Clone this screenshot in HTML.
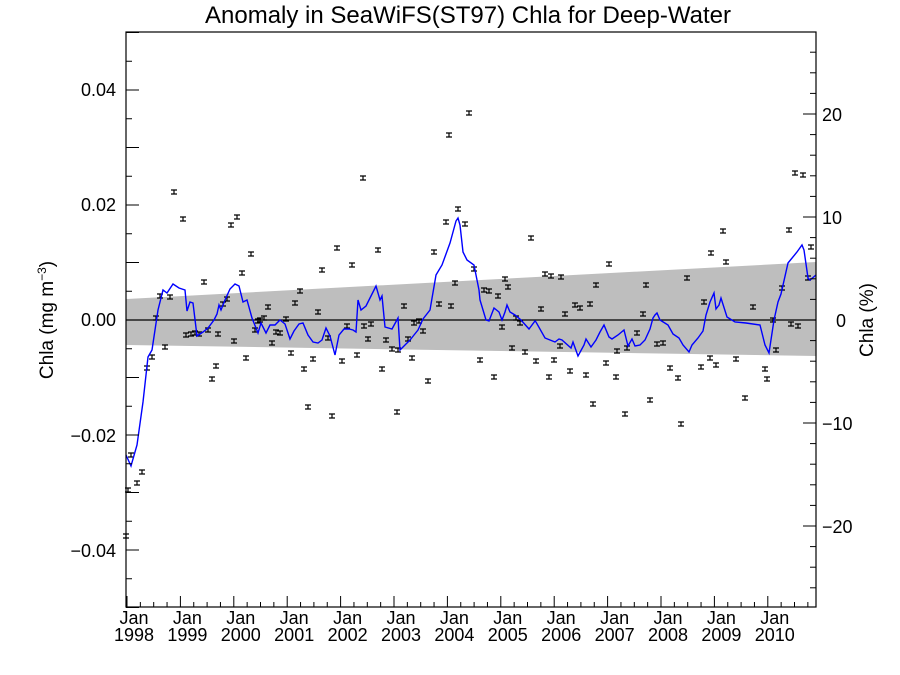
<!DOCTYPE html>
<html><head><meta charset="utf-8"><style>body{margin:0;background:#fff}svg{display:block}</style></head>
<body>
<svg id="s" width="900" height="675" xmlns="http://www.w3.org/2000/svg" font-family="Liberation Sans, sans-serif">
<text x="468" y="23" font-size="24" text-anchor="middle">Anomaly in SeaWiFS(ST97) Chla for Deep-Water</text>
<polygon points="126,299 816,262 816,356 126,345" fill="#bebebe"/>
<line x1="126" y1="320" x2="816" y2="320" stroke="#000" stroke-width="1.3"/>
<g id="pts" stroke="#000" stroke-width="1.2"></g>
<polyline fill="none" stroke="#0000ff" stroke-width="1.4" points="126,455 131,466 137,445 143,402 148,357 152,350 158,310 163,290 167,293 173,284 179,288 185,290 187,311 190,302 193,303 197,336 203,332 208,328 214,320 217,314 219,305 221,310 225,300 230,289 235,284 239,286 243,302 247,300 252,318 258,333 261,323 266,333 270,325 275,325 280,320 285,324 290,339 294,331 299,324 303,323 308,335 313,342 318,343 322,340 326,328 330,336 335,355 339,335 344,329 349,329 353,330 356,332 358,300 361,310 366,306 371,296 376,286 380,300 382,296 385,327 392,329 398,318 400,350 405,345 410,340 414,335 418,330 423,319 430,310 436,275 442,265 446,254 450,243 456,221 458,218 460,225 463,252 467,260 474,265 479,290 480,300 486,320 489,321 494,308 499,312 502,320 505,312 507,305 510,312 515,315 521,320 529,329 535,321 536,322 545,338 550,340 555,342 559,339 562,340 571,348 573,342 578,356 584,345 586,339 591,347 596,340 600,332 604,325 609,337 612,339 618,335 624,330 628,346 632,339 635,346 640,345 645,340 650,329 653,318 655,315 657,313 660,320 668,325 673,334 679,338 683,345 689,352 692,345 698,338 703,331 706,315 710,302 714,293 716,309 719,305 721,298 727,317 735,322 746,323 760,325 765,345 769,353 774,320 778,302 781,294 788,263 797,252 802,245 804,250 808,278 810,280 816,275"/>
<rect x="126" y="32" width="690" height="575" fill="none" stroke="#000" stroke-width="1.2"/>
<g id="ax" stroke="#000" stroke-width="1"></g>
<g font-size="18" text-anchor="end">
<text x="116" y="96">0.04</text><text x="116" y="211">0.02</text><text x="116" y="326">0.00</text><text x="116" y="442">−0.02</text><text x="116" y="557">−0.04</text>
</g>
<g font-size="18" text-anchor="start">
<text x="822" y="121">20</text><text x="822" y="224">10</text><text x="836" y="327">0</text><text x="822" y="430">−10</text><text x="822" y="533">−20</text>
</g>
<text transform="translate(53,320) rotate(-90)" font-size="19" text-anchor="middle">Chla (mg m<tspan font-size="12" dy="-7">−3</tspan><tspan dy="7">)</tspan></text>
<text transform="translate(873,320) rotate(-90)" font-size="19" text-anchor="middle">Chla (%)</text>
<g id="xl" font-size="18" text-anchor="middle"></g>
</svg>
<script>
var NS="http://www.w3.org/2000/svg";
function el(p,t,a,txt){var e=document.createElementNS(NS,t);for(var k in a)e.setAttribute(k,a[k]);if(txt)e.textContent=txt;document.getElementById(p).appendChild(e);}
var P=[[126,536],[128,490],[131,455],[137,483],[142,472],[147,368],[152,357],[156,318],[160,296],[165,347],[170,297],[174,192],[183,219],[186,335],[191,334],[195,333],[199,334],[204,282],[208,330],[212,379],[216,366],[218,334],[223,304],[227,299],[231,225],[234,341],[237,217],[242,273],[246,358],[251,254],[255,330],[258,321],[260,320],[264,318],[268,307],[272,343],[276,332],[280,333],[286,319],[291,353],[295,303],[300,291],[304,369],[308,407],[313,359],[318,312],[322,270],[328,338],[332,416],[337,248],[342,361],[347,326],[352,265],[357,355],[363,178],[364,326],[368,339],[371,324],[378,250],[382,369],[386,340],[392,349],[397,412],[398,350],[404,306],[408,339],[412,358],[414,323],[419,321],[423,331],[428,381],[434,252],[439,304],[449,135],[446,222],[451,306],[455,283],[458,209],[465,224],[469,113],[474,269],[480,360],[484,290],[489,291],[494,377],[498,296],[502,327],[505,279],[508,287],[512,348],[516,318],[520,323],[525,352],[531,238],[536,361],[541,309],[545,274],[549,377],[551,276],[554,360],[560,346],[561,277],[565,314],[570,371],[575,305],[580,308],[586,375],[590,304],[593,404],[596,285],[606,363],[609,264],[616,377],[617,351],[625,414],[627,348],[637,333],[643,314],[646,285],[650,400],[657,344],[663,343],[670,368],[678,378],[681,424],[687,278],[701,367],[704,302],[710,358],[711,253],[716,365],[723,231],[726,262],[736,359],[745,398],[753,307],[765,369],[767,379],[773,320],[776,350],[782,288],[789,230],[791,324],[795,173],[798,326],[803,175],[808,278],[811,247]];
P.forEach(function(p){var x=p[0],y=p[1],h=2;el("pts","path",{d:"M"+(x-3)+","+(y-h)+"h6M"+(x-3)+","+(y+h)+"h6M"+x+","+(y-h)+"v"+(2*h)});});
for(var v=-0.05;v<=0.0501;v+=0.005){var y=320-v*5750;var maj=Math.abs(Math.round(v*1000)%10)==0;el("ax","line",{x1:126,x2:126+(maj?13:6),y1:y,y2:y});}
for(var r=-26;r<=28;r+=2){var y=320-r*10.3;if(y<32||y>607)continue;var maj=r%10==0;el("ax","line",{x1:816,x2:816-(maj?13:6),y1:y,y2:y});}
for(var q=0;q<=52;q++){var x=127+q*53.4/4;if(x>816)break;var maj=q%4==0;el("ax","line",{x1:x,x2:x,y1:607,y2:607-(maj?11:5)});}
for(var k=0;k<=12;k++){var x=127+k*53.4;el("xl","text",{x:x+7,y:624},"Jan");el("xl","text",{x:x+7,y:641},""+(1998+k));}
</script>
</body></html>
